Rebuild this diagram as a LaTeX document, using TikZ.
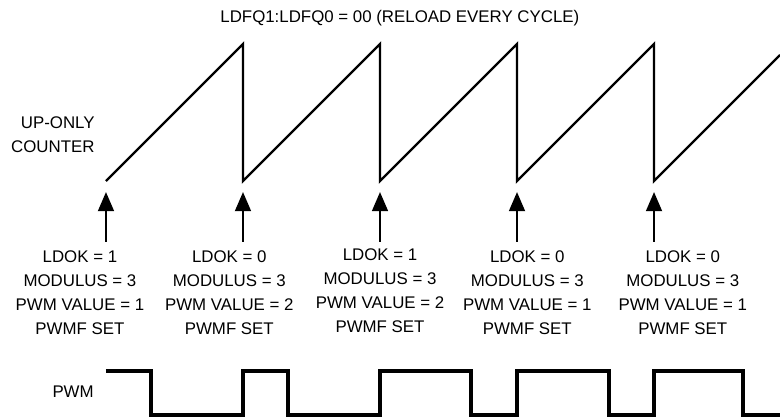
\documentclass[tikz,border=0pt]{standalone}
\usepackage{fontspec}
\setmainfont{Liberation Sans}
\usetikzlibrary{arrows.meta}
\tikzset{
  lbl/.style={align=center, font=\fontsize{7}{10}\selectfont, inner sep=0pt},
  saw/.style={line width=1pt, line join=miter},
  pwmline/.style={line width=1.6pt},
  uparrow/.style={line width=1.2pt, -{Triangle[width=6.5pt,length=8pt]}}
}
\begin{document}
\begin{tikzpicture}

\useasboundingbox (-1.547,-3.460) rectangle (9.839,2.642);

\node[lbl] (title) at (4.29,2.38) {LDFQ1:LDFQ0 = 00 (RELOAD EVERY CYCLE)};

\node[lbl, align=right, anchor=east] (cnt) at (-0.16,0.68) {UP-ONLY\\COUNTER};

% counter sawtooth
\draw[saw] (0,0) -- (2,2) -- (2,0) -- (4,2) -- (4,0) -- (6,2) -- (6,0)
  -- (8,2) -- (8,0) -- (9.839,1.839);

% reload points
\coordinate (s1) at (0,-0.89);
\coordinate (h1) at (0,-0.16);
\coordinate (s2) at (2,-0.89);
\coordinate (h2) at (2,-0.16);
\coordinate (s3) at (4,-0.89);
\coordinate (h3) at (4,-0.16);
\coordinate (s4) at (6,-0.89);
\coordinate (h4) at (6,-0.16);
\coordinate (s5) at (8,-0.89);
\coordinate (h5) at (8,-0.16);

\draw[uparrow] (s1) -- (h1);
\draw[uparrow] (s2) -- (h2);
\draw[uparrow] (s3) -- (h3);
\draw[uparrow] (s4) -- (h4);
\draw[uparrow] (s5) -- (h5);

\node[lbl] (ld1) at (-0.38,-1.635) {LDOK = 1\\MODULUS = 3\\PWM VALUE = 1\\PWMF SET};
\node[lbl] (ld2) at (1.80,-1.635) {LDOK = 0\\MODULUS = 3\\PWM VALUE = 2\\PWMF SET};
\node[lbl] (ld3) at (4.00,-1.60) {LDOK = 1\\MODULUS = 3\\PWM VALUE = 2\\PWMF SET};
\node[lbl] (ld4) at (6.15,-1.635) {LDOK = 0\\MODULUS = 3\\PWM VALUE = 1\\PWMF SET};
\node[lbl] (ld5) at (8.42,-1.635) {LDOK = 0\\MODULUS = 3\\PWM VALUE = 1\\PWMF SET};

% pwm output
\node[lbl] (pwm) at (-0.48,-3.08) {PWM};

\draw[pwmline] (0,-2.77) -- (0.66,-2.77) -- (0.66,-3.42) -- (2,-3.42)
  -- (2,-2.77) -- (2.66,-2.77) -- (2.66,-3.42) -- (4,-3.42)
  -- (4,-2.77) -- (5.33,-2.77) -- (5.33,-3.42) -- (6,-3.42)
  -- (6,-2.77) -- (7.34,-2.77) -- (7.34,-3.42) -- (8,-3.42)
  -- (8,-2.77) -- (9.30,-2.77) -- (9.30,-3.42) -- (9.839,-3.42);

\end{tikzpicture}
\end{document}
